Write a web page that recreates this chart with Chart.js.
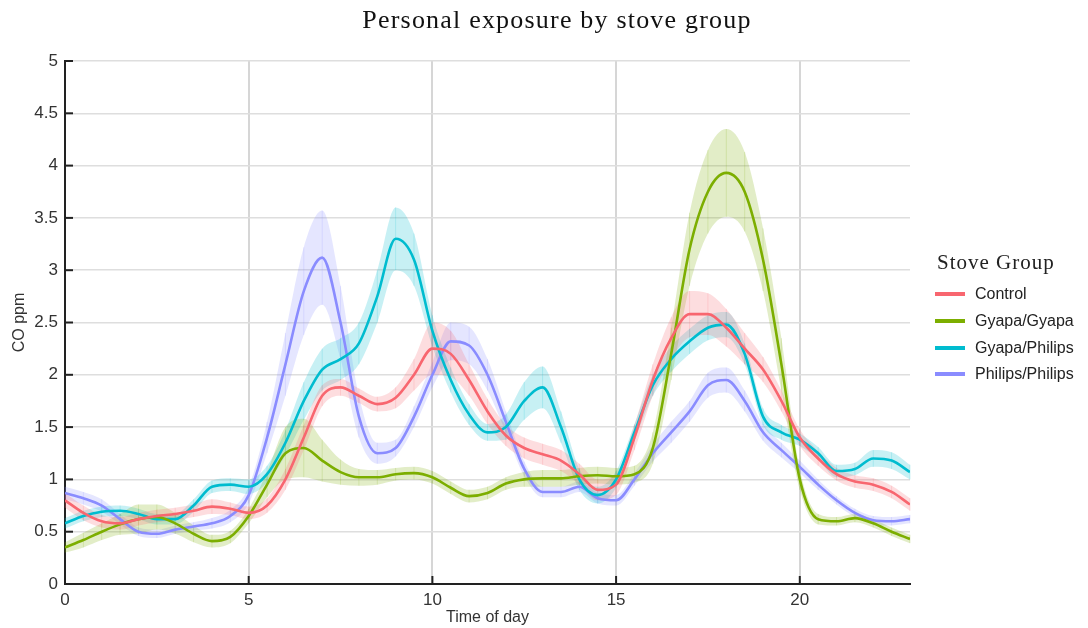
<!DOCTYPE html>
<html>
<head>
<meta charset="utf-8">
<script src="https://cdn.jsdelivr.net/npm/chart.js@4.4.1/dist/chart.umd.min.js"></script>
<style>
body{margin:0;background:#fff;}
#wrap{position:relative;width:1088px;height:628px;}
#titulo{position:absolute;top:5px;left:0;width:1114px;text-align:center;font-family:'Liberation Serif',serif;font-size:26px;letter-spacing:1.2px;color:#111;}
#leyenda{position:absolute;left:935px;top:250px;font-family:'Liberation Sans',Arial,sans-serif;font-size:16px;color:#222;}
#leyenda .tit{font-family:'Liberation Serif',serif;font-size:21px;letter-spacing:1px;margin-bottom:6px;margin-left:2px;}
#leyenda .item{height:26.7px;display:flex;align-items:center;}
#leyenda .sw{width:30px;height:4px;margin-right:10px;}
</style>
</head>
<body>
<div id="wrap">
<canvas id="myChart" width="1088" height="628"></canvas>
<div id="titulo">Personal exposure by stove group</div>
<div id="leyenda"></div>
</div>
<script>
const horas = [0,0.5,1,1.5,2,2.5,3,3.5,4,4.5,5,5.5,6,6.5,7,7.5,8,8.5,9,9.5,10,10.5,11,11.5,12,12.5,13,13.5,14,14.5,15,15.5,16,16.5,17,17.5,18,18.5,19,19.5,20,20.5,21,21.5,22,22.5,23]
const grupos = ["Control","Gyapa/Gyapa","Gyapa/Philips","Philips/Philips"]
const colores = ["#F8666F","#7CAE00","#00BCCF","#8A8CFF"]
const ticksX = [0,5,10,15,20]

const control = [0.8,0.68,0.6,0.58,0.62,0.65,0.67,0.7,0.74,0.72,0.68,0.75,1.0,1.4,1.8,1.88,1.8,1.72,1.78,2.0,2.25,2.2,1.95,1.65,1.42,1.3,1.24,1.18,1.05,0.9,0.95,1.4,1.95,2.35,2.58,2.58,2.45,2.25,2.05,1.75,1.4,1.2,1.05,0.98,0.95,0.88,0.76]
const gyapaGyapa = [0.35,0.42,0.5,0.57,0.62,0.64,0.58,0.48,0.41,0.45,0.65,0.95,1.25,1.3,1.18,1.07,1.02,1.02,1.05,1.06,1.02,0.92,0.84,0.87,0.96,1.0,1.01,1.01,1.03,1.04,1.03,1.05,1.3,2.2,3.2,3.75,3.93,3.75,3.1,2.1,1.0,0.62,0.6,0.63,0.58,0.5,0.43]
const gyapaPhilips = [0.58,0.65,0.69,0.7,0.67,0.62,0.62,0.75,0.93,0.95,0.93,1.05,1.35,1.75,2.05,2.15,2.3,2.75,3.3,3.1,2.42,1.95,1.62,1.45,1.5,1.75,1.88,1.5,1.0,0.85,1.0,1.45,1.9,2.15,2.32,2.45,2.48,2.2,1.6,1.45,1.38,1.25,1.08,1.1,1.2,1.18,1.07]
const philipsPhilips = [0.87,0.82,0.75,0.62,0.5,0.48,0.52,0.55,0.58,0.65,0.85,1.4,2.1,2.8,3.12,2.5,1.6,1.25,1.3,1.6,2.0,2.32,2.28,2.0,1.55,1.1,0.88,0.88,0.93,0.82,0.8,1.0,1.25,1.45,1.65,1.9,1.95,1.75,1.45,1.28,1.12,0.95,0.8,0.68,0.61,0.6,0.62]

// semi-ancho de la banda de confianza
const ciControl = [0.07,0.07,0.06,0.06,0.06,0.06,0.06,0.06,0.07,0.06,0.06,0.07,0.1,0.12,0.1,0.08,0.07,0.07,0.1,0.15,0.25,0.22,0.15,0.12,0.1,0.1,0.1,0.1,0.1,0.1,0.1,0.12,0.15,0.2,0.22,0.2,0.18,0.15,0.12,0.1,0.08,0.07,0.06,0.06,0.06,0.06,0.06]
const ciGyapaGyapa = [0.05,0.07,0.08,0.1,0.14,0.12,0.1,0.08,0.06,0.06,0.07,0.12,0.25,0.28,0.2,0.12,0.08,0.07,0.06,0.06,0.06,0.06,0.06,0.06,0.06,0.07,0.08,0.08,0.08,0.08,0.08,0.08,0.15,0.25,0.35,0.4,0.42,0.38,0.3,0.25,0.1,0.05,0.04,0.04,0.04,0.04,0.04]
const ciGyapaPhilips = [0.05,0.05,0.05,0.05,0.05,0.05,0.05,0.06,0.06,0.06,0.07,0.08,0.12,0.18,0.2,0.2,0.2,0.25,0.3,0.25,0.15,0.12,0.1,0.08,0.12,0.18,0.2,0.15,0.1,0.08,0.08,0.08,0.1,0.12,0.12,0.12,0.12,0.1,0.08,0.07,0.06,0.06,0.06,0.06,0.08,0.08,0.07]
const ciPhilipsPhilips = [0.06,0.06,0.06,0.05,0.04,0.04,0.04,0.04,0.05,0.06,0.08,0.15,0.3,0.42,0.45,0.35,0.2,0.1,0.08,0.1,0.12,0.18,0.18,0.15,0.1,0.07,0.05,0.05,0.05,0.05,0.05,0.06,0.08,0.1,0.1,0.12,0.12,0.1,0.08,0.07,0.06,0.05,0.04,0.04,0.04,0.04,0.04]

const series = [control, gyapaGyapa, gyapaPhilips, philipsPhilips]
const bandas = [ciControl, ciGyapaGyapa, ciGyapaPhilips, ciPhilipsPhilips]

function hexAlpha(hex, a) {
  const n = parseInt(hex.slice(1), 16)
  return `rgba(${(n>>16)&255},${(n>>8)&255},${n&255},${a})`
}

const datasets = []
series.forEach((serie, i) => {
  datasets.push({
    label: grupos[i] + " sup",
    data: horas.map((h, k) => ({x: h, y: serie[k] + bandas[i][k]})),
    borderWidth: 0, pointRadius: 0, fill: "+1",
    backgroundColor: hexAlpha(colores[i], 0.22),
    cubicInterpolationMode: "monotone", order: 2
  })
  datasets.push({
    label: grupos[i] + " inf",
    data: horas.map((h, k) => ({x: h, y: serie[k] - bandas[i][k]})),
    borderWidth: 0, pointRadius: 0, fill: false,
    cubicInterpolationMode: "monotone", order: 2
  })
})
series.forEach((serie, i) => {
  datasets.push({
    label: grupos[i],
    data: horas.map((h, k) => ({x: h, y: serie[k]})),
    borderColor: colores[i], borderWidth: 2.6, pointRadius: 0, fill: false,
    cubicInterpolationMode: "monotone", order: 1
  })
})

// rayitas verticales dentro de las bandas + marcas hacia adentro en los ejes
const marcas = {
  id: "marcas",
  beforeDatasetsDraw(chart) {
    const {ctx, scales} = chart
    ctx.save()
    ctx.lineWidth = 1
    series.forEach((serie, i) => {
      ctx.strokeStyle = hexAlpha(colores[i], 0.18)
      horas.forEach((h, k) => {
        const px = scales.x.getPixelForValue(h)
        ctx.beginPath()
        ctx.moveTo(px, scales.y.getPixelForValue(serie[k] + bandas[i][k]))
        ctx.lineTo(px, scales.y.getPixelForValue(serie[k] - bandas[i][k]))
        ctx.stroke()
      })
    })
    ctx.restore()
  },
  afterDatasetsDraw(chart) {
    const {ctx, chartArea, scales} = chart
    ctx.save()
    ctx.strokeStyle = "#222"
    ctx.lineWidth = 2
    scales.y.ticks.forEach(t => {
      const py = scales.y.getPixelForValue(t.value)
      ctx.beginPath(); ctx.moveTo(chartArea.left, py); ctx.lineTo(chartArea.left + 8, py); ctx.stroke()
    })
    scales.x.ticks.forEach(t => {
      const px = scales.x.getPixelForValue(t.value)
      ctx.beginPath(); ctx.moveTo(px, chartArea.bottom); ctx.lineTo(px, chartArea.bottom - 8); ctx.stroke()
    })
    ctx.restore()
  }
}

const fuenteTicks = {family: "'Liberation Sans', Arial, sans-serif", size: 17}

new Chart(document.getElementById("myChart").getContext("2d"), {
  type: "line",
  data: {datasets},
  options: {
    responsive: false,
    animation: false,
    layout: {padding: {top: 61, right: 178, left: 0, bottom: 0}},
    plugins: {legend: {display: false}, tooltip: {enabled: false}},
    scales: {
      x: {
        type: "linear", min: 0, max: 23,
        afterBuildTicks: s => { s.ticks = ticksX.map(v => ({value: v})) },
        ticks: {color: "#333", font: fuenteTicks, padding: 6},
        grid: {
          drawTicks: false,
          color: c => c.tick.value === 0 ? "rgba(0,0,0,0)" : "rgba(0,0,0,0.16)",
          lineWidth: 2
        },
        border: {color: "#222", width: 2},
        title: {display: true, text: "Time of day", color: "#333", font: {family: "'Liberation Sans', Arial, sans-serif", size: 16}, padding: {top: 0, bottom: 1}},
        afterFit: s => { s.height = 44 }
      },
      y: {
        min: 0, max: 5,
        ticks: {stepSize: 0.5, color: "#333", font: fuenteTicks, padding: 7, callback: v => String(v)},
        grid: {
          drawTicks: false,
          color: c => c.tick.value === 0 ? "rgba(0,0,0,0)" : "#dedede",
          lineWidth: 1.5
        },
        border: {color: "#222", width: 2},
        title: {display: true, text: "CO ppm", color: "#333", font: {family: "'Liberation Sans', Arial, sans-serif", size: 16}, padding: {top: 10, bottom: 0}},
        afterFit: s => { s.width = 65 }
      }
    }
  },
  plugins: [marcas]
})

// leyenda
let html = `<div class="tit">Stove Group</div>`
grupos.forEach((g, i) => {
  html += `<div class="item"><span class="sw" style="background:${colores[i]}"></span>${g}</div>`
})
document.getElementById("leyenda").innerHTML = html
</script>
</body>
</html>
